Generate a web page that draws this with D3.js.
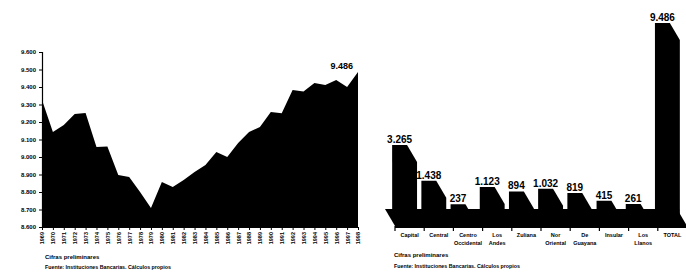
<!DOCTYPE html>
<html>
<head>
<meta charset="utf-8">
<script src="https://cdn.jsdelivr.net/npm/d3@7"></script>
<style>
  body { margin: 0; background: #fff; }
  svg { display: block; font-family: "Liberation Sans", Arial, sans-serif; font-weight: bold; }
</style>
</head>
<body>
<svg></svg>
<script>
// left chart: yearly series
const years = d3.range(1969, 1999).map(String)
const serie = [9326, 9143, 9183, 9246, 9251, 9057, 9060, 8897, 8886, 8800,
               8709, 8857, 8829, 8869, 8914, 8954, 9029, 9000, 9080, 9143,
               9171, 9257, 9250, 9383, 9375, 9423, 9411, 9440, 9400, 9486]
const yTicks = [8600, 8700, 8800, 8900, 9000, 9100, 9200, 9300, 9400, 9500, 9600]

// right chart: regions
const regiones = ["Capital", "Central", "Centro Occidental", "Los Andes", "Zuliana",
                  "Nor Oriental", "De Guayana", "Insular", "Los Llanos", "TOTAL"]
const etiquetas = [["Capital"], ["Central"], ["Centro", "Occidental"], ["Los", "Andes"], ["Zuliana"],
                   ["Nor", "Oriental"], ["De", "Guayana"], ["Insular"], ["Los", "Llanos"], ["TOTAL"]]
const valores = [3265, 1438, 237, 1123, 894, 1032, 819, 415, 261, 9486]

const nota1 = "Cifras preliminares"
const nota2 = "Fuente: Instituciones Bancarias. Cálculos propios"

const width = 686, height = 274
const svg = d3.select("svg").attr("width", width).attr("height", height)
const es = d3.formatLocale({decimal: ",", thousands: ".", grouping: [3], currency: ["", ""]})
const fmt = es.format(",d")

drawArea()
drawBars3D()

function drawArea() {
    const x = d3.scalePoint().domain(years).range([42, 358])
    const y = d3.scaleLinear().domain([8600, 9600]).range([227, 52])

    const area = d3.area()
        .x((d, i) => x(years[i]))
        .y0(y(8600))
        .y1(d => y(d))

    svg.append("path")
        .datum(serie)
        .attr("d", area)
        .attr("fill", "#000")

    const yAxis = svg.append("g")
        .attr("transform", "translate(42,0)")
        .call(d3.axisLeft(y).tickValues(yTicks).tickFormat(fmt).tickSize(3).tickPadding(3))
    yAxis.select(".domain").attr("stroke", "#000").attr("stroke-width", 1.2)
    yAxis.selectAll("text").attr("font-size", 6).attr("font-weight", "bold").attr("font-family", "Liberation Sans")

    const xAxis = svg.append("g")
        .attr("transform", "translate(0,227)")
        .call(d3.axisBottom(x).tickSize(3).tickSizeOuter(0))
    xAxis.select(".domain").attr("stroke", "#000").attr("stroke-width", 1.2)
    xAxis.selectAll("text")
        .attr("font-size", 5.5)
        .attr("font-weight", "bold")
        .attr("font-family", "Liberation Sans")
        .attr("text-anchor", "end")
        .attr("transform", "rotate(-90)")
        .attr("x", -5)
        .attr("y", 0)
        .attr("dy", "0.35em")

    // last value
    svg.append("text")
        .attr("x", x(years[years.length - 1]) - 5)
        .attr("y", y(serie[serie.length - 1]) - 3)
        .attr("text-anchor", "end")
        .attr("font-size", 9)
        .text(fmt(serie[serie.length - 1]))

    svg.append("text").attr("x", 45).attr("y", 259).attr("font-size", 6).text(nota1)
    svg.append("text").attr("x", 45).attr("y", 269).attr("font-size", 5.3).text(nota2)
}

function drawBars3D() {
    const dx = 10, dy = 17
    const base = 226
    const x = d3.scaleBand().domain(regiones).range([395, 687]).paddingInner(0.49).paddingOuter(0.245)
    const y = d3.scaleLinear().domain([0, 10000]).range([base - dy, base - dy - 196])
    const bw = x.bandwidth()

    // floor
    svg.append("path")
        .attr("d", d3.line()([[395 - dx, base - dy], [687 - dx, base - dy], [687, base], [395, base]]) + "Z")
        .attr("fill", "#000")
    svg.append("line")
        .attr("x1", 395).attr("x2", 687).attr("y1", base + 1).attr("y2", base + 1)
        .attr("stroke", "#000").attr("stroke-width", 2)

    // ticks on the floor front edge
    svg.selectAll(".tk")
        .data(regiones.concat([null]))
        .enter()
        .append("line")
        .attr("x1", (d, i) => 395 + x.step() * i)
        .attr("x2", (d, i) => 395 + x.step() * i)
        .attr("y1", base)
        .attr("y2", base + 5)
        .attr("stroke", "#000")
        .attr("stroke-width", 1.2)

    svg.selectAll(".bar")
        .data(regiones)
        .enter()
        .append("path")
        .attr("d", (d, i) => {
            const x0 = x(d), x1 = x(d) + bw, yt = y(valores[i])
            return d3.line()([
                [x0 - dx, base - dy], [x0 - dx, yt], [x1 - dx, yt],
                [x1, yt + dy], [x1, base], [x0, base]
            ]) + "Z"
        })
        .attr("fill", "#000")

    svg.selectAll(".val")
        .data(regiones)
        .enter()
        .append("text")
        .attr("x", d => x(d) + bw / 2 - dx)
        .attr("y", (d, i) => y(valores[i]) - 2)
        .attr("text-anchor", "middle")
        .attr("font-size", 10)
        .text((d, i) => fmt(valores[i]))

    const lab = svg.selectAll(".lab")
        .data(regiones)
        .enter()
        .append("text")
        .attr("text-anchor", "middle")
        .attr("font-size", 5.5)
    lab.selectAll("tspan")
        .data((d, i) => etiquetas[i].map(t => ({t: t, c: x(d) + bw / 2})))
        .enter()
        .append("tspan")
        .attr("x", d => d.c)
        .attr("y", (d, j) => 237 + j * 8)
        .text(d => d.t)

    svg.append("text").attr("x", 394).attr("y", 257).attr("font-size", 6).text(nota1)
    svg.append("text").attr("x", 394).attr("y", 268).attr("font-size", 5.3).text(nota2)
}
</script>
</body>
</html>
